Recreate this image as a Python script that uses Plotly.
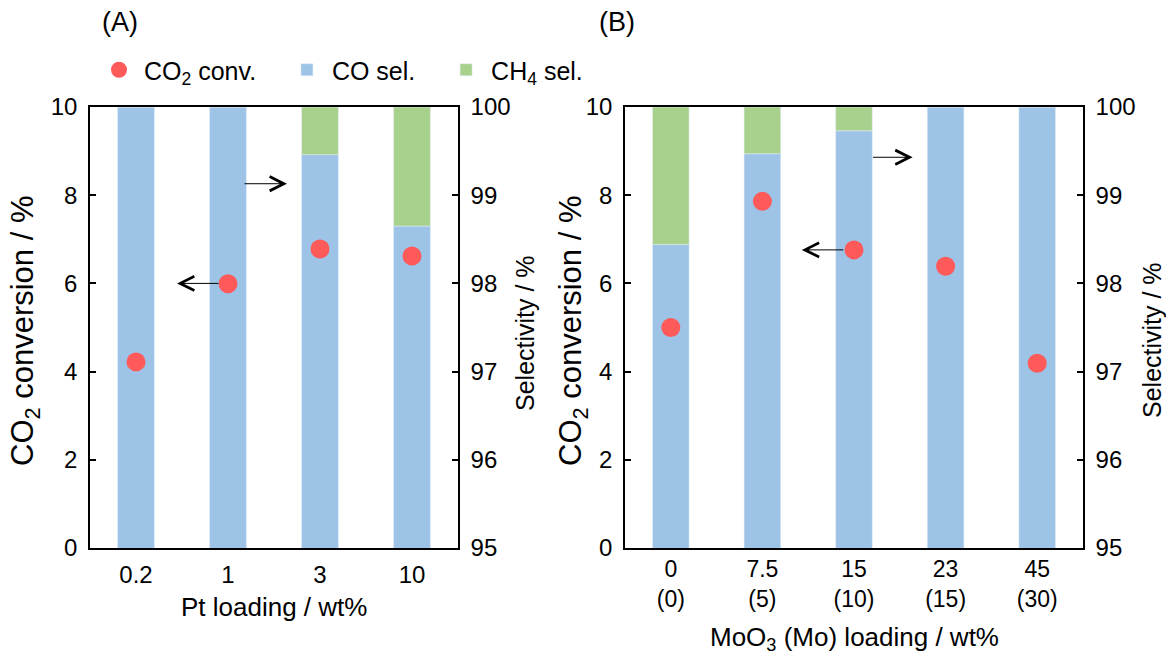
import plotly.graph_objects as go

# ---------------- data ----------------
pt_loading = ["0.2", "1", "3", "10"]
pt_conv = [4.22, 5.99, 6.78, 6.62]
pt_co_sel = [100.0, 100.0, 99.46, 98.65]
pt_ch4_sel = [0.0, 0.0, 0.54, 1.35]

moo3_loading = ["0<br>(0)", "7.5<br>(5)", "15<br>(10)", "23<br>(15)", "45<br>(30)"]
moo3_conv = [5.0, 7.86, 6.76, 6.39, 4.19]
moo3_co_sel = [98.44, 99.47, 99.73, 100.0, 100.0]
moo3_ch4_sel = [1.56, 0.53, 0.27, 0.0, 0.0]

# ---------------- style ----------------
W, H = 1166, 655
FONT = "Liberation Sans, Arial, Helvetica, sans-serif"
RED = "#FF5A5A"
BLUE = "#9DC3E6"
GREEN = "#A9D18E"
NB = "\u00a0"


def px(x):
    return x / W


def py(y):
    return 1 - y / H


fig = go.Figure()

# Panel A
fig.add_trace(go.Bar(x=pt_loading, y=pt_co_sel, name="CO sel." + NB * 3, marker_color=BLUE,
                     width=0.4, xaxis="x", yaxis="y", legendrank=2))
fig.add_trace(go.Bar(x=pt_loading, y=pt_ch4_sel, base=pt_co_sel, name="CH<sub>4</sub> sel.",
                     marker_color=GREEN, width=0.4, xaxis="x", yaxis="y", legendrank=3))
fig.add_trace(go.Scatter(x=pt_loading, y=pt_conv, mode="markers",
                         name="CO<sub>2</sub> conv." + NB * 3,
                         marker=dict(color=RED, size=19), xaxis="x", yaxis="y2", legendrank=1))

# Panel B
fig.add_trace(go.Bar(x=moo3_loading, y=moo3_co_sel, name="CO sel.", marker_color=BLUE,
                     width=0.4, xaxis="x2", yaxis="y3", showlegend=False))
fig.add_trace(go.Bar(x=moo3_loading, y=moo3_ch4_sel, base=moo3_co_sel, name="CH<sub>4</sub> sel.",
                     marker_color=GREEN, width=0.4, xaxis="x2", yaxis="y3", showlegend=False))
fig.add_trace(go.Scatter(x=moo3_loading, y=moo3_conv, mode="markers", name="CO<sub>2</sub> conv.",
                         marker=dict(color=RED, size=19), xaxis="x2", yaxis="y4", showlegend=False))

ydom = [py(548), py(107)]
common_x = dict(showline=True, mirror=True, linecolor="black", linewidth=1.5, ticks="",
                showgrid=False, zeroline=False, tickfont=dict(size=24, color="black"),
                type="category", fixedrange=True, automargin=False)
common_y = dict(showline=True, linecolor="black", linewidth=1.5, ticks="inside", ticklen=6,
                tickwidth=1.5, tickcolor="black", showgrid=False, zeroline=False,
                tickfont=dict(size=24, color="black"), ticklabelstandoff=6, automargin=False)

fig.update_layout(
    width=W, height=H,
    margin=dict(l=0, r=0, t=0, b=0, autoexpand=False),
    paper_bgcolor="white", plot_bgcolor="white",
    font=dict(family=FONT, color="black"),
    barmode="overlay",
    showlegend=True,
    legend=dict(orientation="h", x=px(94), y=py(47), xanchor="left", yanchor="top",
                font=dict(size=25), itemsizing="trace", traceorder="normal", itemwidth=40,
                bgcolor="rgba(0,0,0,0)"),
    xaxis=dict(domain=[px(90), px(458)], anchor="y", range=[-0.5, 3.5],
               ticklabelstandoff=4, **common_x),
    yaxis=dict(domain=ydom, anchor="x", side="right", range=[95, 100], dtick=1, **common_y),
    yaxis2=dict(overlaying="y", anchor="x", side="left", range=[0, 10], dtick=2, **common_y),
    xaxis2=dict(domain=[px(625), px(1083)], anchor="y3", range=[-0.5, 4.5],
                tickfont=dict(size=23, color="black"),
                **{k: v for k, v in common_x.items() if k != "tickfont"}),
    yaxis3=dict(domain=ydom, anchor="x2", side="right", range=[95, 100], dtick=1, **common_y),
    yaxis4=dict(overlaying="y3", anchor="x2", side="left", range=[0, 10], dtick=2, **common_y),
)

ann = []


def text_ann(x, y, text, size, angle=0):
    ann.append(dict(x=px(x), y=py(y), xref="paper", yref="paper", text=text, showarrow=False,
                    textangle=angle, xanchor="center", yanchor="middle",
                    font=dict(size=size, color="black")))


# panel labels
text_ann(120, 22, "(A)", 27)
text_ann(617, 22, "(B)", 27)
# axis titles
text_ann(25, 331, "CO<sub>2</sub> conversion / %", 31, -90)
text_ann(525, 333, "Selectivity / %", 25, -90)
text_ann(573, 331, "CO<sub>2</sub> conversion / %", 31, -90)
text_ann(1152, 340, "Selectivity / %", 25, -90)
text_ann(274, 607, "Pt loading / wt%", 26)
text_ann(854, 638, "MoO<sub>3</sub> (Mo) loading / wt%", 26)


def arrow(xref, yref, x_head, x_tail, y):
    ann.append(dict(x=x_head, y=y, ax=x_tail, ay=y, xref=xref, yref=yref, axref=xref, ayref=yref,
                    text="", showarrow=True, arrowhead=5, arrowsize=2.8, arrowwidth=1,
                    arrowcolor="black", standoff=0, startstandoff=0))


arrow("x", "y2", 0.446, 0.913, 6.0)
arrow("x", "y", 1.641, 1.163, 99.13)
arrow("x2", "y4", 1.43, 1.90, 6.76)
arrow("x2", "y3", 2.64, 2.19, 99.43)

fig.update_layout(annotations=ann)

fig.write_html("out.html")
